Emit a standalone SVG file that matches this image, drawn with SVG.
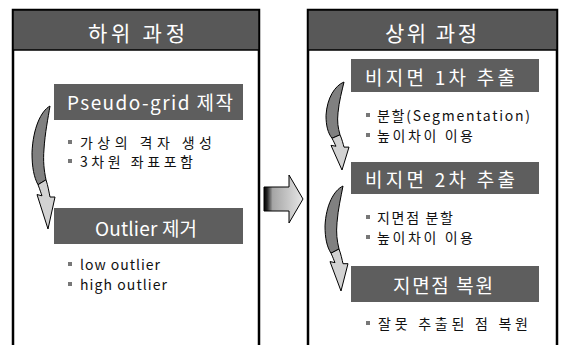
<svg xmlns="http://www.w3.org/2000/svg" width="561" height="345" viewBox="0 0 561 345">
<style>
.panel{fill:none;stroke:#000;stroke-width:2.5}
.hdr{fill:#585858;stroke:#000;stroke-width:1.5}
.bar{fill:#5e5e5e}
.ht{font-family:"Noto Sans CJK KR","Noto Sans",sans-serif;font-size:21px;fill:#fff;dominant-baseline:central}
.bt{font-family:"Noto Sans CJK KR","Noto Sans",sans-serif;font-size:19px;fill:#fff;dominant-baseline:central}
.it{font-family:"Noto Sans CJK KR","Noto Sans",sans-serif;font-size:14px;fill:#111;dominant-baseline:central}
.dot{fill:#777}
.dk{fill:#808080;stroke:#000;stroke-width:1;vector-effect:non-scaling-stroke}
.lt{fill:#d2d2d2;stroke:#000;stroke-width:1;vector-effect:non-scaling-stroke}
</style>
<defs>
<linearGradient id="ga" x1="264" y1="0" x2="303" y2="0" gradientUnits="userSpaceOnUse">
<stop offset="0" stop-color="#000"/>
<stop offset="0.08" stop-color="#222"/>
<stop offset="0.22" stop-color="#a5a5a5"/>
<stop offset="1" stop-color="#e6e6e6"/>
</linearGradient>
<g id="carrow">
<path class="dk" d="M1,0 C-8,4 -16,18 -17,38 C-17,50 -15,58 -11,64 L-3,60 C-5,52 -6,45 -5,35 C-4,22 -1,10 1,0 Z"/>
<path class="lt" d="M-11,64 C-9,68 -8,71 -7,73 L-12,72 L-1,100 L6,74 L1,74 C0,70 -1,65 -3,60 Z"/>
</g>
</defs>
<rect width="561" height="345" fill="#fff"/>

<g id="left-panel">
<path class="panel" d="M13,345 V10 H259 V345"/>
<rect class="hdr" x="13" y="10" width="246" height="40"/>
<text class="ht" x="88" y="32" textLength="97">하위 과정</text>
</g>

<g id="pseudo-grid">
<rect class="bar" x="54" y="84" width="189" height="36"/>
<text class="bt" x="67" y="101" textLength="166">Pseudo-grid 제작</text>
<rect class="dot" x="68" y="140" width="4" height="4"/>
<text class="it" x="80" y="142" textLength="132">가상의 격자 생성</text>
<rect class="dot" x="68" y="159" width="4" height="4"/>
<text class="it" x="80" y="161" textLength="113">3차원 좌표포함</text>
</g>

<g id="outlier">
<rect class="bar" x="54" y="208" width="189" height="36"/>
<text class="bt" x="95" y="227" textLength="102">Outlier 제거</text>
<rect class="dot" x="68" y="262" width="4" height="4"/>
<text class="it" x="80" y="264" textLength="80">low outlier</text>
<rect class="dot" x="68" y="282" width="4" height="4"/>
<text class="it" x="80" y="284" textLength="87">high outlier</text>
</g>

<g id="right-panel">
<path class="panel" d="M308,345 V10 H557 V345"/>
<rect class="hdr" x="308" y="10" width="249" height="40"/>
<text class="ht" x="385" y="32" textLength="92">상위 과정</text>
</g>

<g id="nonground-1">
<rect class="bar" x="351" y="59" width="188" height="33"/>
<text class="bt" x="365" y="76" textLength="150">비지면 1차 추출</text>
<rect class="dot" x="366" y="113" width="4" height="4"/>
<text class="it" x="377" y="115" textLength="153">분할(Segmentation)</text>
<rect class="dot" x="366" y="133" width="4" height="4"/>
<text class="it" x="377" y="135" textLength="96">높이차이 이용</text>
</g>

<g id="nonground-2">
<rect class="bar" x="351" y="162" width="188" height="32"/>
<text class="bt" x="365" y="178" textLength="150">비지면 2차 추출</text>
<rect class="dot" x="366" y="215" width="4" height="4"/>
<text class="it" x="377" y="217" textLength="76">지면점 분할</text>
<rect class="dot" x="366" y="235" width="4" height="4"/>
<text class="it" x="377" y="237" textLength="96">높이차이 이용</text>
</g>

<g id="ground-restore">
<rect class="bar" x="351" y="266" width="188" height="36"/>
<text class="bt" x="393" y="284" textLength="100">지면점 복원</text>
<rect class="dot" x="366" y="321" width="4" height="4"/>
<text class="it" x="378" y="323" textLength="150">잘못 추출된 점 복원</text>
</g>

<g id="connectors">
<use href="#carrow" transform="translate(49,106) scale(1,1.23)"/>
<use href="#carrow" transform="translate(343,82) scale(1,0.88)"/>
<use href="#carrow" transform="translate(342,186) scale(1,1.05)"/>
<polygon points="264,187 289,187 289,175 303,199 289,223 289,211 264,211" fill="url(#ga)" stroke="#000" stroke-width="1"/>
</g>
</svg>
